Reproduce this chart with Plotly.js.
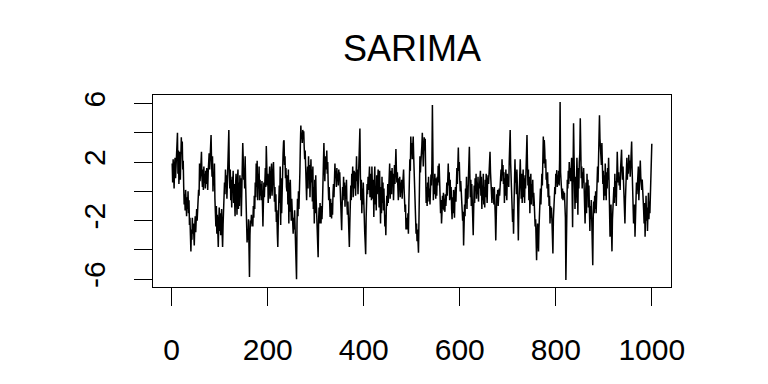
<!DOCTYPE html>
<html>
<head>
<meta charset="utf-8">
<script src="https://cdn.plot.ly/plotly-3.0.1.min.js"></script>
<style>
  html, body { margin: 0; padding: 0; background: #ffffff; }
  #chart { width: 768px; height: 384px; }
</style>
</head>
<body>
<div id="chart"></div>
<script>
// Series values (t = 1..1000)
var sarimaValues = [
  1.9, 0.6, 2.2, 1.1, 0.2, 1.8, 2.3, 0.9, 1.6, 2.4,
  3.1, 4.0, 1.2, 2.8, 0.5, 1.9, 2.7, 0.8, 2.2, 3.7,
  2.6, 3.4, 1.5, 2.1, 0.3, -0.9, -0.2, -1.3, 0.1, -1.0,
  -1.7, -0.4, -1.2, 0.0, -1.5, -0.6, -2.3, -1.8, -3.0, -4.1,
  -2.6, -3.3, -1.8, -2.9, -2.2, -3.1, -3.7, -2.4, -1.7, -2.8,
  -1.9, -1.2, -2.0, -0.6, -1.1, 0.1, -0.3, 1.9, 0.7, 1.2,
  2.0, 2.7, 1.0, 0.3, 1.5, 0.1, 1.7, 0.6, 1.2, 0.2,
  1.4, 0.5, 1.6, 0.9, 0.1, 1.3, 1.8, 2.6, 1.5, 2.9,
  3.2, 3.85, 2.1, 1.0, 2.4, 0.0, 1.3, 0.4, 1.9, -0.5,
  -1.2, -2.4, -1.0, -2.9, -1.6, -3.2, -3.8, -2.1, -1.1, -2.7,
  -1.5, -3.0, -2.2, -1.2, -2.8, -3.8, -2.3, -0.4, -1.3, 0.6,
  -0.2, 1.5, 0.4, 1.1, -0.5, 0.9, 1.8, 2.6, 4.2, 1.3,
  0.2, 1.5, -0.6, 0.8, -1.1, 1.0, 0.3, 1.4, -0.8, 0.5,
  -0.9, -1.7, 0.4, 1.2, -0.3, -1.6, 0.8, 1.5, -1.2, 0.6,
  -1.0, 1.1, -0.4, 0.9, -1.7, 0.3, 1.6, 3.3, 2.2, 0.8,
  1.4, 0.2, 2.4, 0.5, -1.2, -2.3, -3.5, -2.6, -3.3, -1.9,
  -3.4, -5.85, -3.0, -2.0, -2.4, -1.6, -2.2, -1.75, -2.4, -1.0,
  -1.8, -0.3, -1.2, 0.6, -0.4, 1.9, 0.3, 2.1, -0.6, 1.2,
  0.2, 1.7, -0.6, 0.8, -0.3, 0.5, -0.6, 0.7, -1.1, -2.4,
  -0.8, 0.6, -0.4, 0.9, 1.6, 0.3, 3.1, 1.8, 0.4, 1.2,
  -0.8, 0.9, 0.2, 1.7, -0.5, 1.1, 0.4, 1.9, -0.3, 0.8,
  1.5, 2.0, 0.6, -0.7, 0.3, -1.4, -0.2, -2.1, -1.3, -2.9,
  -3.8, -2.0, -1.1, 0.4, -0.8, 1.7, -2.3, 0.9, -1.5, 1.2,
  0.4, 2.6, 3.4, 3.5, 1.8, 2.4, 0.9, 1.6, 0.3, 0.0,
  1.1, -0.9, 1.5, -2.2, 0.6, -1.4, 0.8, -1.1, -2.0, -0.5,
  -1.6, -2.4, -2.9, -1.8, -2.6, -1.3, -2.9, -2.1, -3.6, -6.0,
  -2.2, -0.5, -1.7, 0.0, -1.2, -0.4, 1.3, 3.2, 4.5, 3.6,
  4.0, 3.3, 4.2, 3.7, 4.1, 3.0, 2.2, 2.8, 1.4, 0.5,
  -0.6, 0.8, 1.7, 0.2, 2.4, 0.9, 1.8, -0.4, 1.2, 2.2,
  0.6, 1.5, -0.7, 1.7, -1.2, 0.3, -2.2, 0.8, -1.5, 1.1,
  -0.6, -1.9, -2.8, -3.6, -4.5, -2.0, -1.1, -2.2, -0.8, -1.7,
  -2.2, -1.0, -1.9, -0.9, 0.8, 2.1, 3.3, 1.9, 0.7, 2.2,
  2.4, 1.5, 2.8, 1.2, 2.0, 0.4, -0.6, 0.3, -1.0, -1.75,
  -0.5, -1.3, -1.85, -0.8, -1.6, -0.1, 0.5, -0.4, 1.1, 1.9,
  0.9, 1.4, 0.3, 1.6, 0.7, 1.2, 0.4, 1.5, 0.8, 1.3,
  0.2, -0.9, -1.8, -2.65, -1.0, 0.3, -0.6, 1.0, -0.3, 0.6,
  -1.05, 0.4, -0.5, 0.8, -0.9, -1.6, -0.7, -2.4, -1.9, -3.8,
  -2.2, -0.8, 0.4, -0.6, 1.2, 0.3, 1.7, -0.4, 0.9, 1.4,
  0.2, 1.3, -0.3, 1.8, 2.4, 0.7, 1.5, -0.2, 1.0, 2.0,
  2.9, 4.3, 1.1, -0.6, 0.8, -1.5, 0.2, -0.9, 0.6, -1.2,
  -2.0, -2.8, -3.5, -4.3, -1.8, -0.6, 0.5, -0.2, 1.0, 0.1,
  0.9, 1.7, -0.4, 0.6, 1.2, -0.6, 1.7, 0.3, -0.5, 0.8,
  -1.75, 0.5, 1.7, -0.9, 0.2, -1.3, 1.1, -0.2, 0.7, 1.5,
  0.4, -1.1, 1.4, -0.6, -2.2, 0.3, -1.5, 1.0, -0.8, 0.6,
  -1.3, 0.2, -1.9, -2.4, -1.6, -3.0, -1.2, -0.3, -1.0, 0.5,
  -0.8, 1.0, 0.3, 1.9, -0.5, 0.9, 1.4, -0.2, 1.6, 0.4,
  1.2, -0.6, 0.8, 1.8, 0.5, 2.1, 2.9, 1.5, 0.6, 1.3,
  0.3, -0.6, 0.9, 0.1, 1.0, -0.4, 0.6, -0.1, 0.8, -0.5,
  0.4, 1.0, 1.5, 0.2, -0.7, -1.4, -0.9, -2.6, -1.8, -2.4,
  -2.6, -1.5, -2.9, -0.8, 0.9, 2.2, 1.4, 3.75, 2.6, 3.3,
  2.2, 3.0, 3.75, 2.4, 1.1, 0.3, -0.8, -1.9, -2.9, -2.2,
  -3.4, -2.6, -3.6, -4.2, -2.0, 0.2, 2.4, 1.3, 2.0, 2.4,
  3.1, 4.0, 2.5, 1.7, 2.9, 3.7, 2.8, 3.6, 1.2, -0.8,
  0.3, -1.0, 0.6, -0.4, 1.0, -0.7, 0.2, -0.9, 0.8, 1.15,
  0.4, 1.9, 5.9, 1.0, -0.6, 0.7, -0.2, 1.2, 0.1, -0.5,
  0.9, -0.3, 1.0, 0.4, 1.75, 0.6, 1.9, 0.2, -0.9, -1.5,
  -0.6, -2.2, -1.4, -0.3, -1.2, -0.1, -1.3, -0.5, -1.4, -0.2,
  -1.0, -0.4, 0.6, -0.3, 1.2, 1.9, 0.4, 1.3, -0.6, 0.8,
  -0.5, 0.3, -1.2, -1.9, -0.4, -1.5, 0.1, -1.0, -1.8, -0.2,
  0.3, -0.7, 0.9, 1.6, 0.5, 2.2, 3.0, 1.4, 2.0, 0.8,
  0.0, 0.7, -0.6, -0.2, -1.3, -2.0, -1.4, -3.7, -2.2, -0.9,
  -1.7, 0.2, -0.8, 1.0, -1.2, 0.4, -0.5, 0.9, 1.8, 3.05,
  1.2, -0.4, 0.8, -1.0, 0.5, -0.3, -1.6, -3.0, -1.2, 0.4,
  -0.8, 0.9, 0.1, 1.2, -0.5, 0.6, -0.2, 1.0, -0.7, 0.5,
  0.2, 0.9, 1.4, -0.3, 1.0, -1.2, 0.4, -0.6, 1.2, -0.9,
  0.3, -1.1, 0.8, -0.4, 1.2, 0.0, -0.8, 0.7, 1.1, 0.5,
  1.6, 2.1, 2.7, 1.3, 0.6, 0.1, -0.8, 0.3, -0.5, 0.2,
  -0.9, 0.3, -0.4, -1.8, -3.35, -1.0, -0.2, -0.8, 0.1, -1.0,
  -0.6, 0.2, -0.3, 0.9, 0.4, 1.5, 0.7, 2.2, 1.1, 1.8,
  0.5, 1.3, -0.8, 0.9, -0.3, 1.5, 0.1, -0.6, 1.2, 0.4,
  1.0, 0.3, 2.0, 3.1, 4.2, 1.9, 0.4, -0.8, -1.5, -2.1,
  -1.2, -2.9, -1.0, 0.9, 2.2, 0.6, 1.3, -0.2, 1.5, 0.3,
  -1.4, -3.35, -1.1, 0.5, 1.4, 2.2, 0.7, -0.5, 1.2, -0.8,
  0.6, 1.5, -0.4, 0.9, -0.8, 1.1, 0.2, 1.4, 2.5, 3.85,
  1.8, 0.4, 1.5, -0.6, 1.0, -1.5, 0.3, 1.2, -0.9, 0.5,
  -0.4, 0.8, -1.0, -0.1, -0.7, -1.6, -2.4, -1.9, -3.1, -4.7,
  -3.0, -2.2, -3.3, -4.1, -2.5, -1.1, -1.6, 0.2, -0.9, 0.6,
  1.2, 0.4, 2.3, 3.75, 1.9, 3.5, 2.8, 1.6, 2.2, 0.8,
  1.0, 0.2, 1.3, -0.4, 0.5, -1.0, -0.3, -2.2, -1.0, -1.8,
  -1.1, -2.0, -3.2, -4.25, -1.9, -0.8, -1.4, 0.3, -0.2, 1.2,
  0.6, 1.45, 0.3, 1.1, 0.5, 1.4, 0.4, 2.2, 6.1, 1.3,
  0.5, 0.0, -0.5, 0.2, -0.6, 0.0, -0.4, -0.1, -0.6, -1.8,
  -6.05, -1.5, -0.1, 0.8, 0.2, 1.4, 0.5, 2.0, 0.9, 1.6,
  0.7, 1.8, 2.3, 0.1, -2.45, 1.5, 4.65, 2.4, 0.3, -1.2,
  1.0, -0.8, 0.4, 2.3, 0.9, -1.6, 1.6, 0.2, 2.0, 2.6,
  5.0, 2.3, 0.9, 1.7, 0.2, 1.3, 0.6, 1.6, 0.3, -0.9,
  -2.2, -0.4, 0.6, -1.5, 1.2, -0.2, 0.8, -1.1, 0.4, -1.5,
  -2.7, -1.0, -1.9, -0.6, -3.0, -2.1, -5.05, -1.8, -0.7, -1.5,
  -0.3, -1.2, 0.0, -1.5, -0.5, 0.4, 1.7, 0.6, 1.9, 3.4,
  5.2, 3.6, 2.4, 3.0, 1.8, 3.3, 2.2, 0.5, 1.4, -0.6,
  1.1, -0.3, 1.9, 0.4, -0.6, 1.3, 0.2, 1.6, 0.8, 2.3,
  0.6, -1.4, -3.1, -1.8, -0.9, -2.7, -4.1, -1.9, -0.6, -1.05,
  0.3, -0.8, 1.2, -0.4, 0.7, -1.0, 0.9, 2.7, 1.5, 0.6,
  1.3, 0.4, 1.0, 0.1, 1.6, 2.2, 2.85, 1.4, 0.8, 1.7,
  0.3, -0.9, -1.5, -2.2, -0.6, 0.4, 1.1, 2.3, 0.8, 1.9,
  1.2, 2.5, 1.6, 2.1, 1.0, 1.8, 2.6, 3.4, 1.5, 0.2,
  -0.8, -2.2, -1.4, -0.9, -3.1, -1.7, -0.5, 0.6, -0.2, 1.1,
  0.4, 1.7, -0.6, 0.9, 1.3, 2.1, 1.0, 0.5, 0.1, 0.8,
  -0.5, -0.1, -1.3, -2.2, -0.8, -3.1, -1.6, -0.3, -2.0, -1.1,
  -2.7, -1.4, -0.1, -1.9, -0.7, -1.5, -0.2, 0.9, 2.0, 3.25
];
var startTime = 1;

var xTickVals = [0, 200, 400, 600, 800, 1000];
var xTickText = ['0', '200', '400', '600', '800', '1000'];
var yTickVals = [-6, -4, -2, 0, 2, 4, 6];
var yTickText = ['-6', '', '-2', '', '2', '', '6'];
var chartTitle = 'SARIMA';

var timeIndex = sarimaValues.map(function (_, i) { return startTime + i; });

// R-style 4% range extension
function extRange(arr) {
  var lo = Math.min.apply(null, arr), hi = Math.max.apply(null, arr);
  var d = (hi - lo) * 0.04;
  return [lo - d, hi + d];
}

var fontFam = 'Liberation Sans, Arial, sans-serif';

var trace = {
  x: timeIndex,
  y: sarimaValues,
  type: 'scatter',
  mode: 'lines',
  line: { color: '#000000', width: 1.5 },
  hoverinfo: 'skip'
};

var layout = {
  width: 768,
  height: 384,
  paper_bgcolor: '#ffffff',
  plot_bgcolor: '#ffffff',
  showlegend: false,
  margin: { l: 153, r: 97, t: 95, b: 97, pad: 0 },
  title: {
    text: chartTitle,
    font: { family: fontFam, size: 36, color: '#000000' },
    x: 0.5, xref: 'paper', xanchor: 'center',
    y: 1 - 48 / 384, yref: 'container', yanchor: 'middle'
  },
  xaxis: {
    range: extRange(timeIndex),
    showgrid: false, zeroline: false,
    showline: true, mirror: true, linecolor: '#000000', linewidth: 1,
    ticks: 'outside', ticklen: 18, tickwidth: 1, tickcolor: '#000000',
    tickmode: 'array', tickvals: xTickVals, ticktext: xTickText,
    ticklabelstandoff: 18,
    tickfont: { family: fontFam, size: 30, color: '#000000' }
  },
  yaxis: {
    range: extRange(sarimaValues),
    showgrid: false, zeroline: false,
    showline: true, mirror: true, linecolor: '#000000', linewidth: 1,
    ticks: 'outside', ticklen: 18, tickwidth: 1, tickcolor: '#000000',
    tickmode: 'array', tickvals: yTickVals, ticktext: yTickText,
    tickangle: -90,
    ticklabelstandoff: 17,
    tickfont: { family: fontFam, size: 30, color: '#000000' }
  }
};

Plotly.newPlot('chart', [trace], layout, { staticPlot: true, displayModeBar: false });
</script>
</body>
</html>
